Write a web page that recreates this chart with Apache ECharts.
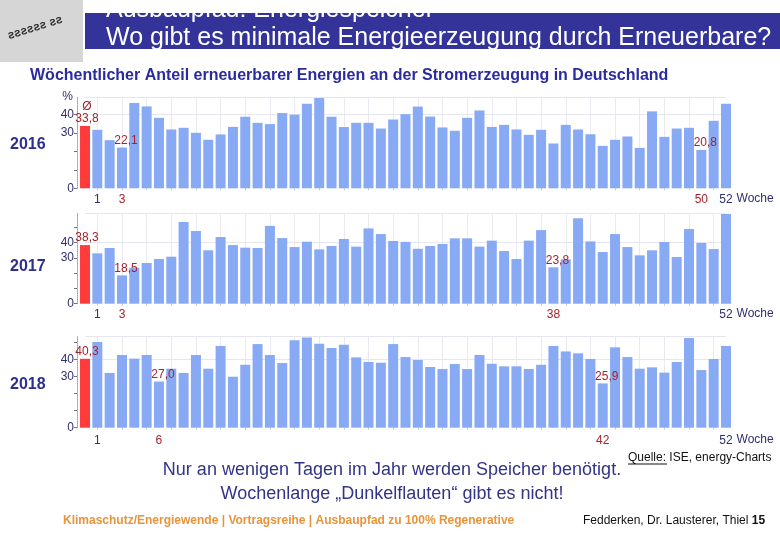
<!DOCTYPE html>
<html><head><meta charset="utf-8">
<script src="https://cdn.jsdelivr.net/npm/echarts@6/dist/echarts.min.js"></script>
<style>html,body{margin:0;padding:0;background:#fff}#c{width:780px;height:540px}</style>
</head><body><div id="c"></div>
<script>
// ---------- data ----------
const weeks = ['Ø','1','2','3','4','5','6','7','8','9','10','11','12','13','14','15','16','17','18','19','20',
  '21','22','23','24','25','26','27','28','29','30','31','32','33','34','35','36','37','38','39','40',
  '41','42','43','44','45','46','47','48','49','50','51','52'];
const years = ['2016','2017','2018'];
const averages = [33.8, 38.3, 40.3];
const weekly2016 = [31.7,26.1,22.1,46.2,44.4,38.2,31.9,32.8,30.1,26.3,29.2,33.3,38.8,35.5,34.8,40.8,39.9,45.8,48.9,38.8,
  33.2,35.5,35.5,32.4,37.3,40.2,44.3,38.9,33.0,31.2,38.2,42.2,33.3,34.4,31.9,29.0,31.7,24.3,34.4,31.9,
  29.3,23.0,26.3,28.1,21.9,41.7,27.9,32.4,32.8,20.8,36.6,45.8];
const weekly2017 = [32.9,36.4,18.5,23.5,26.6,29.2,30.7,53.4,47.5,34.9,43.6,38.3,36.6,36.4,50.8,42.9,37.0,40.5,35.5,37.7,
  42.3,37.3,49.2,45.5,41.0,40.4,35.9,37.7,39.0,42.7,42.7,37.3,41.2,34.4,29.2,41.2,48.1,23.8,29.0,55.8,
  40.7,33.8,45.5,37.0,31.6,34.9,40.3,30.5,48.8,39.7,35.7,58.6];
const weekly2018 = [50.1,32.0,42.5,40.4,42.5,27.0,34.5,32.0,42.5,34.5,47.8,29.8,36.8,48.9,42.5,37.8,51.1,52.8,49.1,46.6,
  48.5,41.1,38.4,38.0,48.9,41.3,39.6,35.5,34.3,37.2,34.3,42.5,37.4,35.9,35.9,34.3,36.8,47.8,44.6,43.5,
  40.2,25.9,47.0,41.3,34.5,35.3,32.2,38.4,52.4,33.7,40.2,47.8];
const markedWeeks = [[3, 50], [3, 38], [6, 42]];
const yLabelTicks = [0, 30, 40];

// ---------- layout ----------
const panels = [
  {weekly: weekly2016, max: 49.5, top: 97, height: 91.3, labelMargin: 5, yearY: 146, avgPrefix: 'Ø\n'},
  {weekly: weekly2017, max: 59, top: 213.4, height: 90.3, labelMargin: 5, yearY: 268, avgPrefix: ''},
  {weekly: weekly2018, max: 53.5, top: 336.2, height: 91.5, labelMargin: 7, yearY: 386, avgPrefix: ''}
];
const BLUE = '#88aaf4', RED = '#ff3b3b', DARKRED = '#a8232b', NAVY = '#2f2f6e';
const FONT = 'Liberation Sans, Arial, sans-serif';
const fmt = v => v.toFixed(1).replace('.', ',');
const oddSplit = (i) => i % 2 === 1;

const grids = [], xAxes = [], yAxes = [], series = [], graphics = [];
panels.forEach((p, k) => {
  grids.push({left: 85, right: 54, top: p.top, height: p.height, containLabel: false});
  const marks = markedWeeks[k];
  xAxes.push({
    type: 'category', gridIndex: k, data: weeks, boundaryGap: false,
    axisLine: {show: false},
    axisTick: {show: true, interval: oddSplit, length: 2, lineStyle: {color: '#c8c8d0'}},
    splitLine: {show: true, interval: oddSplit, lineStyle: {color: '#e9e9ef', width: 1}},
    axisLabel: {
      interval: 0, margin: p.labelMargin, fontFamily: FONT, fontSize: 12,
      formatter: (val, idx) => {
        if (marks.indexOf(idx) >= 0) return '{r|' + val + '}';
        if (idx === 1 || idx === 52) return '{n|' + val + '}';
        return '';
      },
      rich: {r: {color: DARKRED, fontSize: 12, fontFamily: FONT}, n: {color: NAVY, fontSize: 12, fontFamily: FONT}}
    },
    name: 'Woche', nameLocation: 'end', nameGap: 10,
    nameTextStyle: {color: NAVY, fontSize: 12, fontFamily: FONT, verticalAlign: 'top', padding: [p.labelMargin - 1, 0, 0, 0]}
  });
  yAxes.push({
    type: 'value', gridIndex: k, min: 0, max: p.max, interval: 10, offset: 8,
    axisLine: {show: true, lineStyle: {color: '#a0a0a8', type: 'dotted', width: 1}},
    axisTick: {show: true, length: 3, lineStyle: {color: '#707080'}},
    splitLine: {show: false},
    axisLabel: {
      margin: 3, color: NAVY, fontSize: 12, fontFamily: FONT,
      showMaxLabel: false,
      formatter: v => (yLabelTicks.indexOf(v) >= 0 ? String(v) : '')
    },
    name: k === 0 ? '%' : '', nameLocation: 'end', nameGap: -6,
    nameTextStyle: {color: NAVY, fontSize: 12, fontFamily: FONT, align: 'right', padding: [0, 4, 0, 0]}
  });
  const data = [averages[k]].concat(p.weekly).map((v, i) => {
    const item = {value: v};
    if (i === 0) {
      item.itemStyle = {color: RED};
      item.label = {show: true, offset: [2, 0], formatter: p.avgPrefix + fmt(v)};
    } else if (marks.indexOf(i) >= 0) {
      item.label = {show: true, offset: [4, 0], formatter: fmt(v)};
    }
    return item;
  });
  series.push({
    type: 'bar', xAxisIndex: k, yAxisIndex: k, data: data, barWidth: 10, clip: false,
    itemStyle: {color: BLUE},
    label: {show: false, position: 'top', distance: 1, color: DARKRED, fontSize: 12, fontFamily: FONT, lineHeight: 12},
    markLine: {
      silent: true, symbol: 'none', label: {show: false},
      lineStyle: {color: '#e6e6ee', type: 'solid', width: 1},
      data: [{yAxis: 40}, {yAxis: p.max}], z: 0
    },
    animation: false
  });
  graphics.push({type: 'text', left: 10, top: p.yearY - 9,
    style: {text: years[k], fill: '#2e2e8c', font: 'bold 16px ' + FONT}});
});

// header / footer
graphics.push(
  {type: 'rect', left: 0, top: 0, shape: {width: 83, height: 62}, style: {fill: '#d6d6d6'}},
  {type: 'text', x: 8, y: 36, rotation: 0.3, style: {text: 'ƨƨƨƨƨƨ ƨƨ', fill: '#303030', font: 'bold 12px ' + FONT, textVerticalAlign: 'middle'}},
  {type: 'rect', left: 85, top: 13, shape: {width: 695, height: 36}, style: {fill: '#333399'}},
  {type: 'text', x: 106, y: 23, style: {text: 'Ausbaupfad: Energiespeicher', fill: '#ffffff', font: '25px ' + FONT, textVerticalAlign: 'bottom'}, z: 5},
  {type: 'text', x: 106, y: 51, style: {text: 'Wo gibt es minimale Energieerzeugung durch Erneuerbare?', fill: '#ffffff', font: '25px ' + FONT, textVerticalAlign: 'bottom'}, z: 5},
  {type: 'rect', left: 85, top: 49, shape: {width: 695, height: 10}, style: {fill: '#ffffff'}, z: 6},
  {type: 'rect', left: 85, top: 0, shape: {width: 695, height: 13}, style: {fill: '#ffffff'}, z: 6},
  {type: 'text', left: 30, top: 68, style: {text: 'Wöchentlicher Anteil erneuerbarer Energien an der Stromerzeugung in Deutschland', fill: '#2b2ba0', font: 'bold 16px ' + FONT}},
  {type: 'text', left: 628, top: 452, style: {text: 'Quelle: ISE, energy-Charts', font: '12px ' + FONT, fill: '#111'}},
  {type: 'line', shape: {x1: 628, y1: 464, x2: 667, y2: 464}, style: {stroke: '#111', lineWidth: 1}},
  {type: 'text', x: 392, y: 470, style: {text: 'Nur an wenigen Tagen im Jahr werden Speicher benötigt.', fill: '#333388', font: '18px ' + FONT, textAlign: 'center', textVerticalAlign: 'middle'}},
  {type: 'text', x: 392, y: 494, style: {text: 'Wochenlange „Dunkelflauten“ gibt es nicht!', fill: '#333388', font: '18px ' + FONT, textAlign: 'center', textVerticalAlign: 'middle'}},
  {type: 'text', left: 63, top: 515, style: {text: 'Klimaschutz/Energiewende | Vortragsreihe | Ausbaupfad zu 100% Regenerative', fill: '#e8943a', font: 'bold 12px ' + FONT}},
  {type: 'text', left: 583, top: 515, style: {text: 'Fedderken, Dr. Lausterer, Thiel {b|15}', fill: '#111', font: '12px ' + FONT,
     rich: {b: {font: 'bold 12px ' + FONT, fill: '#111'}}}}
);

const chart = echarts.init(document.getElementById('c'), null, {renderer: 'canvas'});
chart.setOption({
  backgroundColor: '#ffffff', animation: false,
  grid: grids, xAxis: xAxes, yAxis: yAxes, series: series, graphic: graphics
});
</script></body></html>
